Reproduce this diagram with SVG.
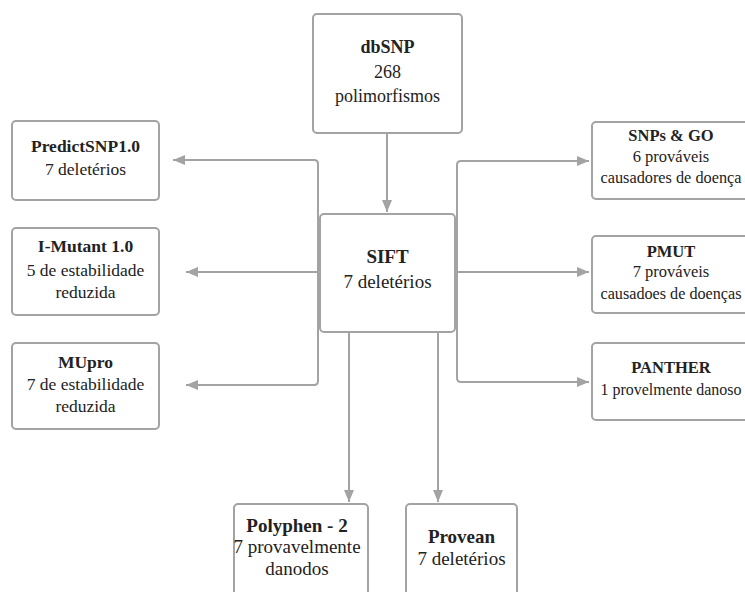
<svg xmlns="http://www.w3.org/2000/svg" width="745" height="592" viewBox="0 0 745 592">
<style>
.box{fill:#ffffff;stroke:#a3a3a3;stroke-width:2}
.t{font-family:'Liberation Serif','Times New Roman',serif;font-size:18px;fill:#222;text-anchor:middle}
.l{font-size:17.5px}
.r{font-size:16.5px}
.bt{font-size:19px}
.b{font-weight:bold}
.c{fill:none;stroke:#a3a3a3;stroke-width:2}
</style>
<defs>
<marker id="ah" markerUnits="userSpaceOnUse" markerWidth="14" markerHeight="10" refX="12" refY="5" orient="auto">
<path d="M0,0 L12,5 L0,10 Z" fill="#a3a3a3"/>
</marker>
</defs>
<rect width="745" height="592" fill="#ffffff"/>
<g id="connectors">
<path class="c" d="M387,133 V212" marker-end="url(#ah)"/>
<path class="c" d="M320,272 H318 V164 Q318,160 314,160 H173" marker-end="url(#ah)"/>
<path class="c" d="M320,272 H186" marker-end="url(#ah)"/>
<path class="c" d="M320,272 H318 V381 Q318,385 314,385 H186" marker-end="url(#ah)"/>
<path class="c" d="M455,272 H457 V165 Q457,161 461,161 H589" marker-end="url(#ah)"/>
<path class="c" d="M455,272 H589" marker-end="url(#ah)"/>
<path class="c" d="M455,272 H457 V378 Q457,382 461,382 H589" marker-end="url(#ah)"/>
<path class="c" d="M349,332 V502" marker-end="url(#ah)"/>
<path class="c" d="M438,332 V502" marker-end="url(#ah)"/>
</g>
<g id="dbsnp">
<rect class="box" x="313" y="14" width="149" height="119" rx="4"/>
<text class="t b" x="387.5" y="53">dbSNP</text>
<text class="t" x="387.5" y="78">268</text>
<text class="t" x="387.5" y="102">polimorfismos</text>
</g>
<g id="sift">
<rect class="box" x="320" y="214" width="135" height="118" rx="4"/>
<text class="t b bt" x="387.5" y="263">SIFT</text>
<text class="t bt" x="387.5" y="288">7 deletérios</text>
</g>
<g id="predictsnp">
<rect class="box" x="12" y="121" width="147" height="79" rx="4"/>
<text class="t b l" x="85.5" y="152">PredictSNP1.0</text>
<text class="t l" x="85.5" y="175">7 deletérios</text>
</g>
<g id="imutant">
<rect class="box" x="12" y="228" width="147" height="87" rx="4"/>
<text class="t b l" x="85.5" y="252">I-Mutant 1.0</text>
<text class="t l" x="85.5" y="276">5 de estabilidade</text>
<text class="t l" x="85.5" y="298">reduzida</text>
</g>
<g id="mupro">
<rect class="box" x="12" y="343" width="147" height="86" rx="4"/>
<text class="t b l" x="85.5" y="368">MUpro</text>
<text class="t l" x="85.5" y="390">7 de estabilidade</text>
<text class="t l" x="85.5" y="412">reduzida</text>
</g>
<g id="snpsgo">
<rect class="box" x="592" y="122" width="158" height="77" rx="4"/>
<text class="t b r" x="671" y="141">SNPs &amp; GO</text>
<text class="t r" x="671" y="162">6 prováveis</text>
<text class="t r" x="671" y="183" textLength="141" lengthAdjust="spacingAndGlyphs">causadores de doença</text>
</g>
<g id="pmut">
<rect class="box" x="592" y="236" width="158" height="77" rx="4"/>
<text class="t b r" x="671" y="257">PMUT</text>
<text class="t r" x="671" y="277">7 prováveis</text>
<text class="t r" x="671" y="299" textLength="141" lengthAdjust="spacingAndGlyphs">causadoes de doenças</text>
</g>
<g id="panther">
<rect class="box" x="592" y="343" width="158" height="77" rx="4"/>
<text class="t b r" x="671" y="373">PANTHER</text>
<text class="t r" x="671" y="395" textLength="141" lengthAdjust="spacingAndGlyphs">1 provelmente danoso</text>
</g>
<g id="polyphen">
<rect class="box" x="234" y="504" width="134" height="100" rx="4"/>
<text class="t b bt" x="297" y="532">Polyphen - 2</text>
<text class="t bt" x="297" y="553">7 provavelmente</text>
<text class="t bt" x="297" y="575">danodos</text>
</g>
<g id="provean">
<rect class="box" x="406" y="504" width="111" height="100" rx="4"/>
<text class="t b bt" x="461.5" y="543">Provean</text>
<text class="t bt" x="461.5" y="565">7 deletérios</text>
</g>
</svg>
